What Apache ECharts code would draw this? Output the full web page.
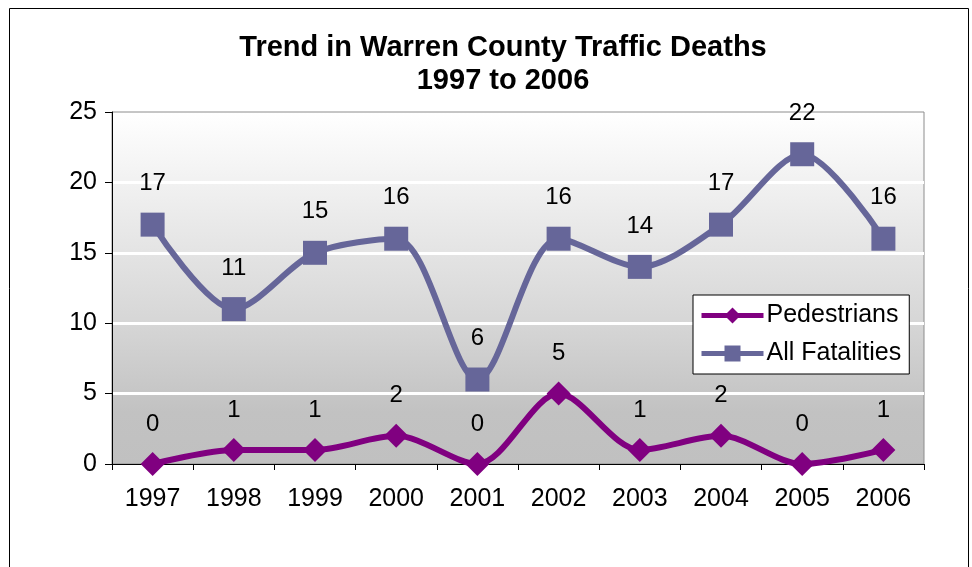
<!DOCTYPE html>
<html>
<head>
<meta charset="utf-8">
<script src="https://cdn.jsdelivr.net/npm/echarts@6/dist/echarts.min.js"></script>
<style>
  html, body { margin: 0; padding: 0; background: #fff; }
  #main { width: 972px; height: 567px; }
</style>
</head>
<body>
<div id="main"></div>
<script>
// data
var years = ['1997', '1998', '1999', '2000', '2001', '2002', '2003', '2004', '2005', '2006'];
var pedestrians = [0, 1, 1, 2, 0, 5, 1, 2, 0, 1];
var allFatalities = [17, 11, 15, 16, 6, 16, 14, 17, 22, 16];

var font = 'Liberation Sans, Arial, sans-serif';

var chart = echarts.init(document.getElementById('main'));

var option = {
  animation: false,
  textStyle: { fontFamily: font },
  title: {
    text: 'Trend in Warren County Traffic Deaths\n1997 to 2006',
    left: 498,
    textAlign: 'center',
    top: 26,
    textStyle: {
      fontSize: 29,
      fontWeight: 'bold',
      color: '#000',
      lineHeight: 33,
      fontFamily: font
    }
  },
  // outer frame of the chart
  graphic: [{
    type: 'rect',
    shape: { x: 9.5, y: 8.5, width: 959, height: 600 },
    style: { fill: null, stroke: '#000', lineWidth: 1 },
    silent: true
  }],
  legend: {
    orient: 'vertical',
    left: 693,
    top: 295,
    width: 213,
    padding: [8, 8, 8, 6],
    itemGap: 13,
    itemWidth: 62,
    itemHeight: 20,
    backgroundColor: '#fff',
    borderColor: '#000',
    borderWidth: 1,
    lineStyle: { width: 5 },
    textStyle: { fontSize: 25, color: '#000', fontFamily: font, padding: [0, 0, 0, -2] },
    data: ['Pedestrians', 'All Fatalities']
  },
  grid: {
    left: 112,
    right: 48,
    top: 112,
    bottom: 103,
    show: true,
    borderColor: '#8c8c8c',
    borderWidth: 1,
    backgroundColor: {
      type: 'linear', x: 0, y: 0, x2: 0, y2: 1,
      colorStops: [
        { offset: 0, color: '#ffffff' },
        { offset: 0.6, color: '#d6d6d6' },
        { offset: 0.85, color: '#c2c2c2' },
        { offset: 1, color: '#c0c0c0' }
      ]
    }
  },
  xAxis: {
    type: 'category',
    data: years,
    boundaryGap: true,
    axisLine: { lineStyle: { color: '#000', width: 1 } },
    axisTick: { show: true, length: 6, lineStyle: { color: '#000' } },
    axisLabel: { fontSize: 25, color: '#000', margin: 23, fontFamily: font }
  },
  yAxis: {
    type: 'value',
    min: 0,
    max: 25,
    interval: 5,
    axisLine: { show: true, lineStyle: { color: '#000', width: 1 } },
    axisTick: { show: true, length: 7, lineStyle: { color: '#000' } },
    axisLabel: { fontSize: 25, color: '#000', margin: 15, fontFamily: font },
    splitLine: {
      show: true,
      showMinLine: false,
      showMaxLine: false,
      lineStyle: { color: '#ffffff', width: 3 }
    }
  },
  series: [
    {
      name: 'Pedestrians',
      type: 'line',
      data: pedestrians,
      smooth: 0.3,
      symbol: 'diamond',
      symbolSize: 24,
      itemStyle: { color: '#800080' },
      lineStyle: { color: '#800080', width: 6 },
      label: {
        show: true,
        position: 'top',
        distance: 16,
        fontSize: 24,
        color: '#000',
        fontFamily: font
      },
      z: 3
    },
    {
      name: 'All Fatalities',
      type: 'line',
      data: allFatalities,
      smooth: 0.3,
      symbol: 'rect',
      symbolSize: 24,
      itemStyle: { color: '#666699' },
      lineStyle: { color: '#666699', width: 6 },
      label: {
        show: true,
        position: 'top',
        distance: 17,
        fontSize: 24,
        color: '#000',
        fontFamily: font
      },
      z: 2
    }
  ]
};

chart.setOption(option);
</script>
</body>
</html>
